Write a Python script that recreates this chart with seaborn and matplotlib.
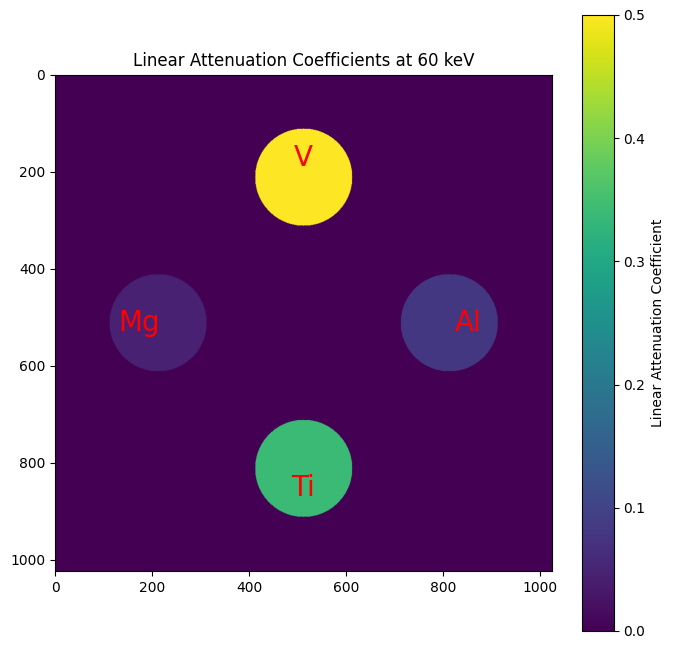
import numpy as np
import matplotlib
matplotlib.use("Agg")
import matplotlib.pyplot as plt
import seaborn as sns

# Data
elements = ["V", "Mg", "Al", "Ti"]
center_x = [512, 212, 812, 512]
center_y = [212, 512, 512, 812]
radius = [100, 100, 100, 100]
mu_values = [0.62, 0.045, 0.082, 0.34]
label_x = [512, 172, 852, 512]
label_y = [172, 512, 512, 852]
size = 1024

yy, xx = np.mgrid[0:size, 0:size]
img = np.zeros((size, size))
for cx, cy, r, mu in zip(center_x, center_y, radius, mu_values):
    img[(xx - cx) ** 2 + (yy - cy) ** 2 <= r ** 2] = mu

cmap = sns.color_palette("viridis", as_cmap=True)

W, H = 673, 649
fig = plt.figure(figsize=(W / 100, H / 100), dpi=100)
ax = fig.add_axes([55 / W, (H - 571) / H, 496.5 / W, 496.5 / H])
im = ax.imshow(img, cmap=cmap, vmin=0, vmax=0.5)
ax.set_title("Linear Attenuation Coefficients at 60 keV")
for name, lx, ly in zip(elements, label_x, label_y):
    ax.text(lx, ly, name, color="red", fontsize=20, ha="center", va="center")

cax = fig.add_axes([582 / W, (H - 631) / H, 31.5 / W, 616 / H])
cb = fig.colorbar(im, cax=cax)
cb.set_label("Linear Attenuation Coefficient")

fig.savefig("out.png", dpi=100)
